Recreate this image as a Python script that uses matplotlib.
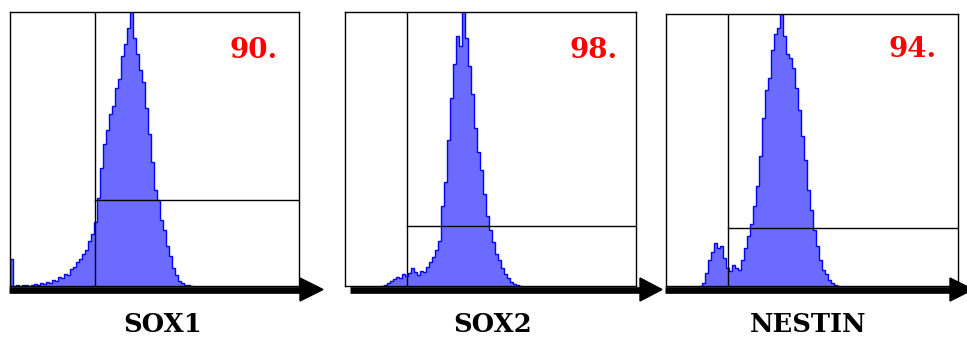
import numpy as np
import matplotlib
matplotlib.use("Agg")
import matplotlib.pyplot as plt
from matplotlib.patches import Polygon

# маркеры и проценты положительных клеток
markers = ["SOX1", "SOX2", "NESTIN"]
percents = ["90.", "98.", "94."]

# гистограммы: шаг канала 3, первый канал для каждой панели
bin_step = 3
sox1_start = 0
sox1_counts = [27, 0, 1, 0, 1, 1, 0, 1, 2, 1, 3, 2, 4, 3, 6, 5, 9, 8, 12, 11,
               17, 19, 24, 27, 32, 36, 45, 52, 64, 88, 118, 142, 156, 172, 180,
               198, 207, 230, 242, 258, 274, 248, 232, 216, 204, 178, 152, 124,
               96, 86, 66, 56, 40, 30, 18, 11, 5, 3, 1, 1, 0]
sox2_start = 36
sox2_counts = [0, 1, 3, 5, 7, 9, 8, 12, 10, 13, 18, 14, 11, 15, 14, 19, 24, 29,
               36, 45, 80, 104, 146, 188, 222, 250, 240, 274, 248, 220, 192, 158,
               134, 116, 92, 70, 56, 44, 32, 26, 18, 12, 8, 4, 2, 1, 0]
nestin_start = 33
nestin_counts = [0, 3, 13, 26, 34, 43, 38, 40, 28, 18, 15, 21, 18, 16, 26, 38, 50,
                 62, 80, 100, 130, 168, 196, 208, 236, 252, 258, 272, 250, 232,
                 228, 218, 198, 176, 150, 126, 96, 76, 56, 40, 26, 16, 12, 6, 3,
                 1, 0]

# гейты: вертикальная граница и уровень горизонтальной линии
gate_x = [85, 62, 62]
gate_y = [86, 60, 58]
x_max = [289, 291, 292]

starts = [sox1_start, sox2_start, nestin_start]
counts = [sox1_counts, sox2_counts, nestin_counts]

W, H = 967, 339
fig = plt.figure(figsize=(W / 100, H / 100), dpi=100)

# рамки панелей в пикселях: left, top, right, bottom
boxes = [(10, 12, 299, 286), (345, 12, 636, 286), (666, 14, 958, 286)]
text_pos = [(0.927, 0.861), (0.938, 0.861), (0.928, 0.868)]

for i in range(3):
    l, t, r, b = boxes[i]
    ax = fig.add_axes([l / W, 1 - b / H, (r - l) / W, (b - t) / H])
    c = np.array(counts[i], dtype=float)
    edges = starts[i] + bin_step * np.arange(len(c) + 1)
    ax.stairs(c, edges, fill=True, color="#6b6bff", linewidth=0)
    ax.stairs(c, edges, color="#0000ff", linewidth=1.0)
    ax.set_xlim(0, x_max[i])
    ax.set_ylim(0, c.max())
    ax.axvline(gate_x[i], color="black", linewidth=1.0)
    ax.plot([gate_x[i], x_max[i]], [gate_y[i], gate_y[i]], color="black",
            linewidth=1.0)
    for s in ax.spines.values():
        s.set_linewidth(1.0)
    ax.set_xticks([])
    ax.set_yticks([])
    ax.text(text_pos[i][0], text_pos[i][1], percents[i], transform=ax.transAxes,
            ha="right", va="center", color="red", fontsize=20,
            fontweight="bold", family="DejaVu Serif")

# стрелки и подписи
ov = fig.add_axes([0, 0, 1, 1])
ov.set_xlim(0, W)
ov.set_ylim(H, 0)
ov.axis("off")
arrows = [(9, 300, 323), (350, 640, 662), (665, 950, 973)]
label_x = [163, 493, 808]
for i, (x0, x1, tip) in enumerate(arrows):
    ov.plot([x0, x1], [289.5, 289.5], color="black", linewidth=4.8,
            solid_capstyle="butt")
    ov.add_patch(Polygon([(x1, 278), (tip, 289.5), (x1, 301)],
                         closed=True, color="black"))
    ov.text(label_x[i], 325, markers[i], ha="center", va="center",
            fontsize=18.5, fontweight="bold", family="DejaVu Serif")

fig.savefig("out.png", dpi=100)
